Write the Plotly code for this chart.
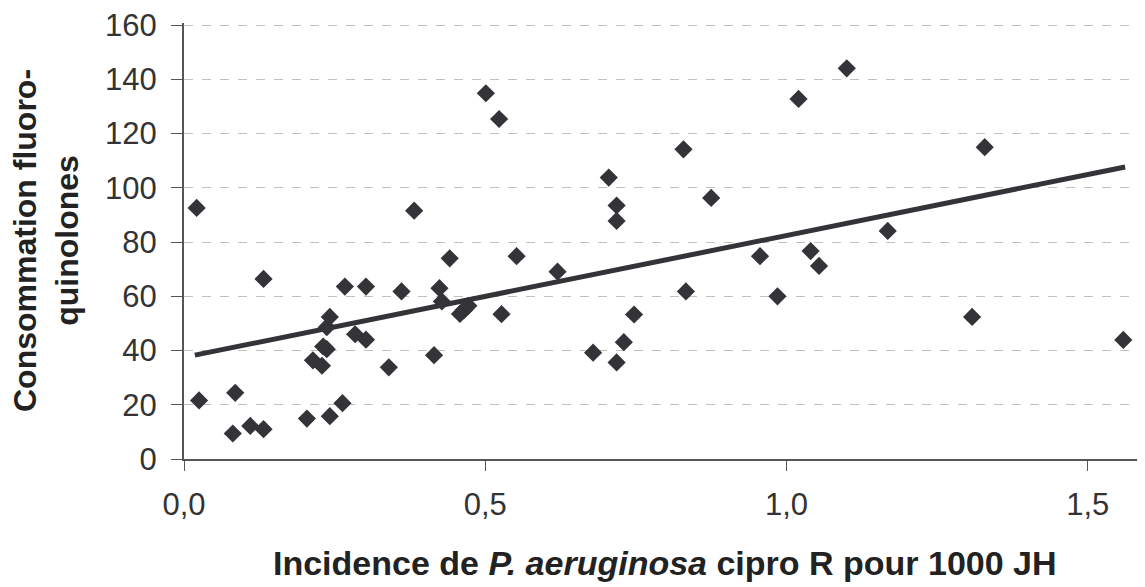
import plotly.graph_objects as go

# Incidence de P. aeruginosa cipro R pour 1000 JH
incidence = [0.021, 0.025, 0.081, 0.085, 0.110, 0.132, 0.132, 0.204, 0.214, 0.229,
             0.231, 0.237, 0.237, 0.242, 0.242, 0.263, 0.267, 0.284, 0.302, 0.302,
             0.340, 0.361, 0.382, 0.415, 0.424, 0.428, 0.441, 0.458, 0.465, 0.472,
             0.501, 0.523, 0.527, 0.552, 0.620, 0.679, 0.705, 0.718, 0.718, 0.718,
             0.730, 0.747, 0.829, 0.833, 0.875, 0.956, 0.985, 1.020, 1.040, 1.054,
             1.100, 1.168, 1.308, 1.329, 1.559]
# Consommation fluoroquinolones
consommation = [92.6, 21.6, 9.4, 24.4, 12.2, 11.0, 66.4, 14.9, 36.4, 34.4,
                41.5, 40.5, 48.6, 52.4, 15.8, 20.6, 63.6, 46.0, 63.6, 44.0,
                33.8, 61.8, 91.6, 38.3, 63.0, 58.1, 74.0, 53.5, 55.0, 56.5,
                134.9, 125.4, 53.4, 74.8, 69.1, 39.2, 103.8, 93.5, 87.8, 35.6,
                43.1, 53.3, 114.2, 61.8, 96.3, 74.8, 60.0, 132.8, 76.7, 71.2,
                144.1, 84.1, 52.4, 115.0, 43.9]
# Droite de tendance (extrémités)
trend_x = [0.018, 1.562]
trend_y = [38.3, 107.7]

x_tickvals = [0.0, 0.5, 1.0, 1.5]
x_ticktext = ["0,0", "0,5", "1,0", "1,5"]
y_tickvals = [0, 20, 40, 60, 80, 100, 120, 140, 160]

dark = "#333338"
font_family = "Liberation Sans, Arial, sans-serif"

fig = go.Figure()
fig.add_trace(go.Scatter(
    x=trend_x, y=trend_y, mode="lines",
    line=dict(color=dark, width=5), hoverinfo="skip", showlegend=False))
fig.add_trace(go.Scatter(
    x=incidence, y=consommation, mode="markers",
    marker=dict(symbol="diamond", size=14, color=dark, line=dict(width=0)),
    showlegend=False))

fig.update_layout(
    width=1137, height=579,
    margin=dict(l=176, r=0, t=11, b=128),
    paper_bgcolor="white", plot_bgcolor="white",
    font=dict(family=font_family, color="#222222"),
    xaxis=dict(
        range=[0, 1.595], tickvals=x_tickvals, ticktext=x_ticktext,
        showgrid=False, zeroline=False,
        showline=True, linecolor="#555555", linewidth=2,
        ticks="outside", ticklen=10, tickcolor="#555555", tickwidth=1,
        tickfont=dict(size=31, color="#333333"), ticklabelstandoff=7,
    ),
    yaxis=dict(
        range=[0, 160.8], tickvals=y_tickvals,
        showgrid=True, gridcolor="#c4c0c0", gridwidth=1, griddash="dash",
        zeroline=False,
        showline=True, linecolor="#555555", linewidth=2,
        ticks="outside", ticklen=11, tickcolor="#555555", tickwidth=1,
        tickfont=dict(size=31, color="#333333"), ticklabelstandoff=8,
        ticklabeloverflow="allow",
    ),
    annotations=[
        dict(text="<b>Incidence de <i>P. aeruginosa</i> cipro R pour 1000 JH</b>",
             xref="paper", yref="paper", x=0.5, y=-0.2374, xanchor="center", yanchor="middle",
             showarrow=False, font=dict(size=34, color="#222222", family=font_family)),
        dict(text="<b>Consommation fluoro-</b><br><b>quinolones</b>",
             xref="paper", yref="paper", x=-0.1436, y=0.5, xanchor="center", yanchor="middle",
             textangle=-90, showarrow=False,
             font=dict(size=32, color="#222222", family=font_family)),
    ],
)

fig.write_html("out.html")
